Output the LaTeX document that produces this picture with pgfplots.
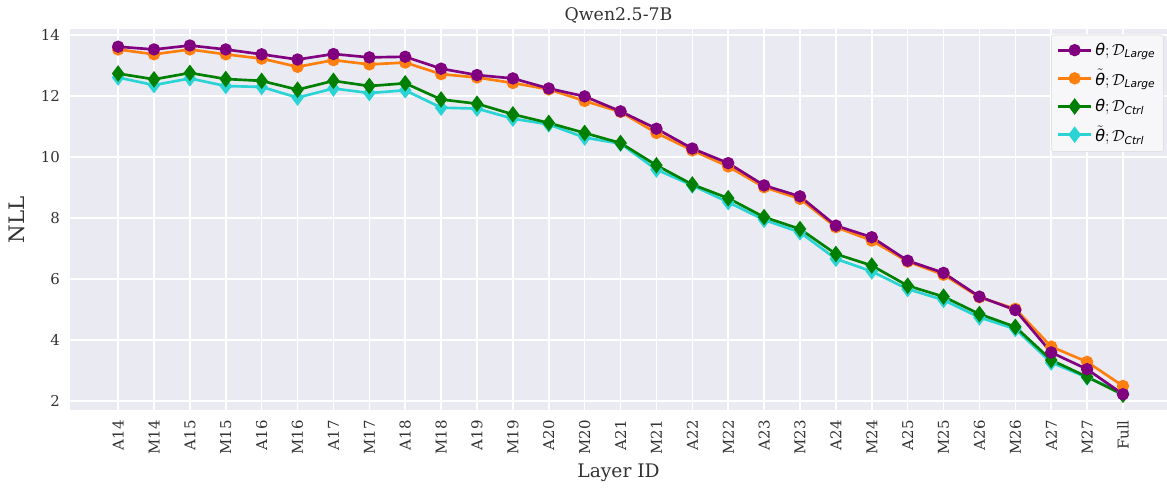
\documentclass[border=0pt]{standalone}
\usepackage{amsmath}
\usepackage{fontspec}
\setmainfont{DejaVu Serif}
\setsansfont{DejaVu Sans}
\usepackage{pgfplots}
\usepackage{pgfplotstable}
\pgfplotsset{compat=1.18}
\definecolor{bgc}{RGB}{234,234,242}
\definecolor{cpur}{RGB}{128,0,128}
\definecolor{cora}{RGB}{255,127,14}
\definecolor{cgre}{RGB}{0,128,0}
\definecolor{ccya}{RGB}{42,212,212}
\definecolor{tickc}{RGB}{50,50,50}
\newcommand{\sth}{\text{\textsf{\textit{θ}}}}
\pgfplotstableread{
x p o g c
0 13.62 13.53 12.74 12.61
1 13.53 13.37 12.55 12.36
2 13.66 13.53 12.76 12.58
3 13.53 13.37 12.56 12.33
4 13.37 13.23 12.50 12.30
5 13.20 12.96 12.21 11.95
6 13.38 13.18 12.50 12.25
7 13.27 13.04 12.33 12.10
8 13.29 13.10 12.42 12.19
9 12.90 12.72 11.89 11.62
10 12.69 12.61 11.75 11.59
11 12.58 12.43 11.40 11.26
12 12.25 12.22 11.12 11.07
13 11.99 11.84 10.79 10.64
14 11.50 11.48 10.46 10.44
15 10.93 10.79 9.73 9.59
16 10.28 10.22 9.10 9.07
17 9.80 9.69 8.65 8.52
18 9.07 9.01 8.03 7.94
19 8.71 8.63 7.64 7.53
20 7.75 7.70 6.82 6.66
21 7.37 7.26 6.44 6.25
22 6.60 6.57 5.78 5.67
23 6.20 6.14 5.42 5.31
24 5.42 5.40 4.85 4.74
25 4.98 5.02 4.43 4.36
26 3.59 3.78 3.34 3.26
27 3.04 3.28 2.79 2.77
28 2.22 2.49 2.20 2.27
}\datatable
\begin{document}
\begin{tikzpicture}
\begin{axis}[
  at={(0,0)}, anchor=south west,
  scale only axis,
  width=822pt, height=285.75pt,
  xmin=-1.339, xmax=29.227,
  ymin=1.69, ymax=14.20,
  axis background/.style={fill=bgc},
  axis line style={draw=none},
  major tick length=0pt,
  grid=major,
  major grid style={white, line width=1.1pt},
  xtick={0,...,28},
  xticklabels={A14,M14,A15,M15,A16,M16,A17,M17,A18,M18,A19,M19,A20,M20,A21,M21,A22,M22,A23,M23,A24,M24,A25,M25,A26,M26,A27,M27,Full},
  ytick={2,4,6,8,10,12,14},
  /pgf/number format/assume math mode=true,
  ticklabel style={font=\fontsize{11.2}{13}\selectfont, text=tickc},
  x tick label style={rotate=90, anchor=east, xshift=-4pt},
  y tick label style={xshift=-4pt},
  xlabel={Layer ID},
  ylabel={NLL},
  xlabel style={font=\fontsize{14}{16}\selectfont, text=tickc},
  ylabel style={font=\fontsize{16}{18}\selectfont, text=tickc, yshift=5pt},
  title={Qwen2.5-7B},
  title style={font=\fontsize{13}{15}\selectfont, text=tickc, at={(0.5,1)}, anchor=base, yshift=0.75pt},
  legend cell align=left,
  reverse legend,
  legend style={at={(0.997,0.985)}, anchor=north east, fill=bgc!40!white, draw=black!15, rounded corners=2pt, font=\fontsize{12}{14.5}\selectfont, row sep=5pt, inner sep=4pt},
  legend image code/.code={\draw[mark repeat=2,mark phase=2] plot coordinates {(0cm,0cm) (0.44cm,0cm) (0.88cm,0cm)};},
  every axis plot/.append style={line width=2pt},
]
\addplot[ccya, mark=diamond*, mark size=4.6pt, mark options={solid}] table[x=x,y=c]{\datatable};
\addlegendentry{$\tilde{\sth};\mathcal{D}_{\textsf{\textit{Ctrl}}}$}
\addplot[cgre, mark=diamond*, mark size=4.6pt, mark options={solid}] table[x=x,y=g]{\datatable};
\addlegendentry{$\sth;\mathcal{D}_{\textsf{\textit{Ctrl}}}$}
\addplot[cora, mark=*, mark size=3.6pt, mark options={solid}] table[x=x,y=o]{\datatable};
\addlegendentry{$\tilde{\sth};\mathcal{D}_{\textsf{\textit{Large}}}$}
\addplot[cpur, mark=*, mark size=3.6pt, mark options={solid}] table[x=x,y=p]{\datatable};
\addlegendentry{$\sth;\mathcal{D}_{\textsf{\textit{Large}}}$}
\end{axis}
\pgfresetboundingbox
\useasboundingbox (-52.5pt,-60pt) rectangle (822pt,307.5pt);
\end{tikzpicture}
\end{document}
